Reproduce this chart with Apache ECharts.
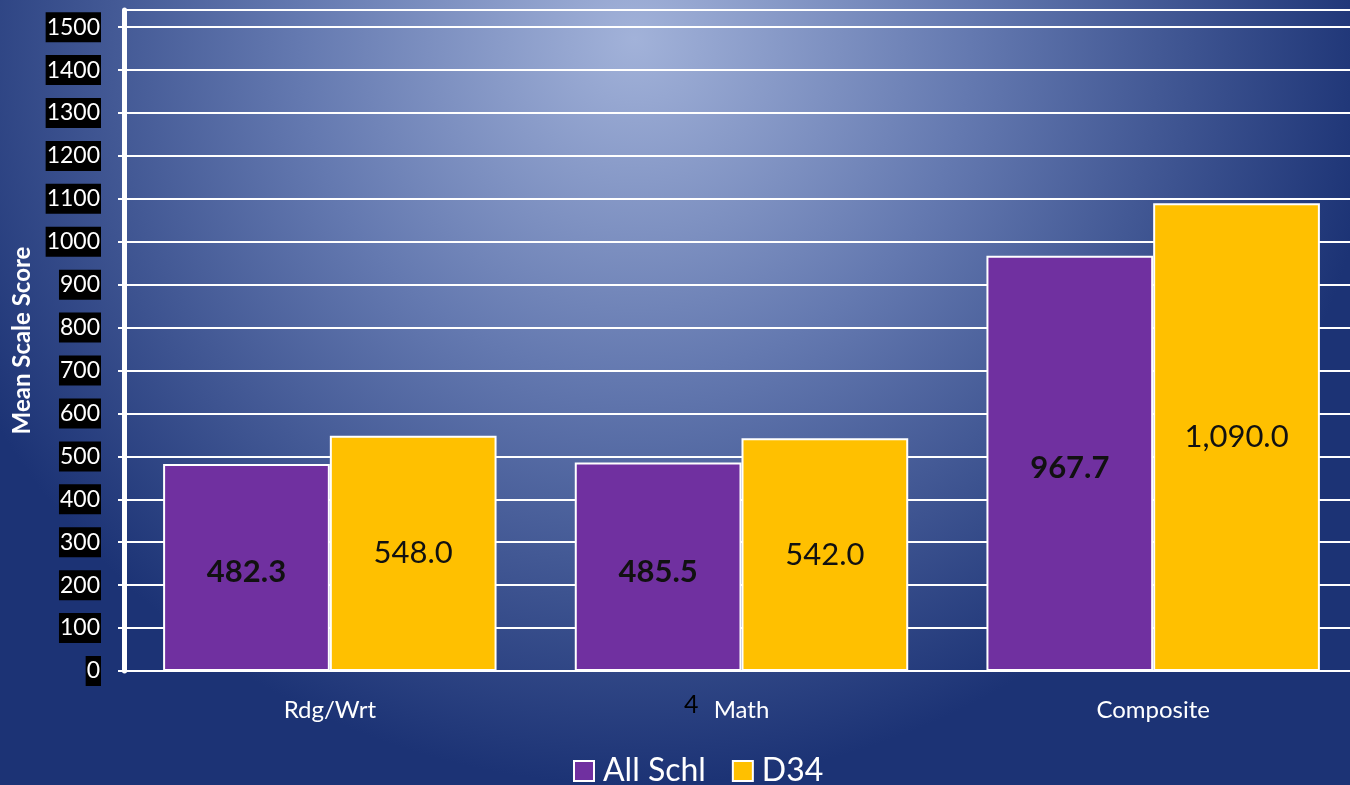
<!DOCTYPE html>
<html>
<head>
<meta charset="utf-8">
<script src="https://cdn.jsdelivr.net/npm/echarts@6/dist/echarts.min.js"></script>
<style>
  html, body { margin: 0; padding: 0; }
  #chart { width: 1350px; height: 785px; }
</style>
</head>
<body>
<div id="chart"></div>
<script>
// data
var categories = ['Rdg/Wrt', 'Math', 'Composite'];
var allSchl = [482.3, 485.5, 967.7];
var d34 = [548.0, 542.0, 1090.0];
var seriesNames = ['All Schl', 'D34'];

var chart = echarts.init(document.getElementById('chart'));

function fmt(v) {
  return v.toLocaleString('en-US', { minimumFractionDigits: 1, maximumFractionDigits: 1 });
}

var font = 'Lato, "Open Sans", sans-serif';

var option = {
  backgroundColor: new echarts.graphic.RadialGradient(0.47, 0.05, 0.95, [
    { offset: 0, color: '#a2b2d9' },
    { offset: 0.45, color: '#6479b0' },
    { offset: 1, color: '#1c3375' }
  ]),
  textStyle: { fontFamily: font },
  grid: {
    left: 124,
    top: 10,
    width: 1235,
    bottom: 114,
    outerBoundsMode: 'none',
    containLabel: false
  },
  legend: {
    data: seriesNames,
    bottom: -7,
    left: 568,
    icon: 'rect',
    itemWidth: 20,
    itemHeight: 20,
    itemGap: 26,
    textStyle: { color: '#fff', fontSize: 32, fontFamily: font, padding: [0, 0, 0, 4] },
    itemStyle: { borderColor: '#fff', borderWidth: 2 }
  },
  xAxis: {
    type: 'category',
    data: categories,
    axisLine: { show: true, lineStyle: { color: '#fff', width: 2 } },
    axisTick: { show: false },
    axisLabel: { color: '#fff', fontSize: 24, margin: 27, fontFamily: font }
  },
  yAxis: {
    type: 'value',
    min: 0,
    max: 1540,
    interval: 100,
    name: 'Mean Scale Score',
    nameLocation: 'middle',
    nameGap: 90,
    nameRotate: 90,
    nameTextStyle: { color: '#fff', fontSize: 24, fontWeight: 'bold', fontFamily: font },
    axisLine: { show: true, lineStyle: { color: '#fff', width: 5 } },
    axisTick: { show: true, length: 6, lineStyle: { color: '#fff', width: 2 } },
    splitLine: { show: true, lineStyle: { color: '#fff', width: 2 } },
    axisLabel: {
      color: '#fff',
      fontSize: 23,
      margin: 23,
      backgroundColor: '#000',
      padding: [4, 1, 3, 1],
      fontFamily: font,
      formatter: function (v) { return v % 100 === 0 ? String(v) : ''; }
    }
  },
  series: [
    {
      name: seriesNames[0],
      type: 'bar',
      data: allSchl,
      barGap: '0%',
      barCategoryGap: '19%',
      itemStyle: { color: '#7030a0', borderColor: '#fff', borderWidth: 2 },
      label: {
        show: true,
        position: 'inside',
        color: '#111',
        fontSize: 31,
        fontWeight: 'bold',
        fontFamily: font,
        offset: [0, 5],
        formatter: function (p) { return fmt(p.value); }
      }
    },
    {
      name: seriesNames[1],
      type: 'bar',
      data: d34,
      itemStyle: { color: '#ffc000', borderColor: '#fff', borderWidth: 2 },
      label: {
        show: true,
        position: 'inside',
        color: '#111',
        fontSize: 31,
        fontFamily: font,
        formatter: function (p) { return fmt(p.value); }
      }
    }
  ],
  graphic: [
    {
      type: 'text',
      left: 684,
      top: 692,
      style: { text: '4', fill: '#000', font: '25px ' + font }
    }
  ]
};

chart.setOption(option);
</script>
</body>
</html>
